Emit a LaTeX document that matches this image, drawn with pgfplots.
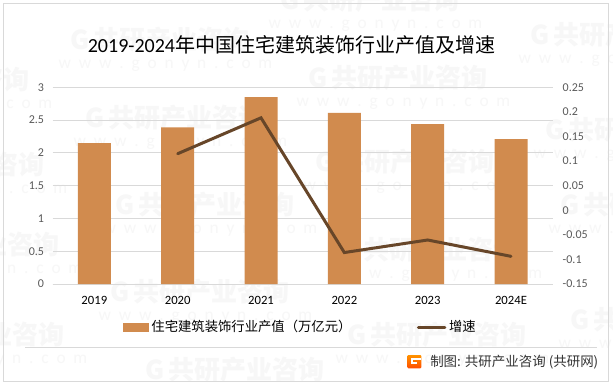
\documentclass[border=0pt]{standalone}
\usepackage{fontspec}
\usepackage{pgfplots}
\pgfplotsset{compat=1.18}
\setmainfont{Carlito}
\newfontfamily\cjk{Noto Sans CJK SC}
\definecolor{bar}{HTML}{D18B4E}
\definecolor{ln}{HTML}{674629}
\definecolor{tk}{HTML}{595959}
\definecolor{gr}{HTML}{D9D9D9}
\definecolor{wm}{HTML}{F7F7F7}
\newcommand{\wmk}[2]{%
  \begin{scope}[shift={(#1*0.75pt,{(387-#2)*0.75pt})},rotate=12]
  \node[inner sep=0pt,text=wm,font=\cjk\bfseries\fontsize{19.5pt}{20pt}\selectfont] at (0pt,0pt) {G\,共研产业咨询};
  \node[inner sep=0pt,text=wm,font=\fontsize{13pt}{14pt}\selectfont] at (0pt,-20pt) {w\ \ w\ \ w\ \ .\ \ g\ \ o\ \ n\ \ y\ \ n\ \ .\ \ c\ \ o\ \ m};
  \end{scope}}
\begin{document}
\begin{tikzpicture}
\useasboundingbox (0pt,0pt) rectangle (459.75pt,290.25pt);
\fill[white] (0pt,0pt) rectangle (459.75pt,290.25pt);
\begin{scope}
\clip (0pt,0pt) rectangle (459.75pt,290.25pt);
\wmk{160}{40}\wmk{370}{0}\wmk{620}{35}
\wmk{-60}{80}\wmk{175}{118}\wmk{398}{78}\wmk{635}{130}
\wmk{-45}{165}\wmk{205}{205}\wmk{405}{162}\wmk{650}{205}
\wmk{-30}{245}\wmk{200}{292}\wmk{430}{250}\wmk{660}{320}
\wmk{-25}{335}\wmk{235}{370}\wmk{437}{335}
\end{scope}
\draw[gr,line width=0.75pt] (2.8pt,4.2pt) rectangle (456pt,287.4pt);
\draw[gr,line width=0.75pt] (18.75pt,29.6pt) -- (447.75pt,29.6pt);
\node[inner sep=0pt,anchor=center,font=\fontsize{15pt}{18pt}\selectfont] at (218.6pt,256.5pt) {2019-2024{\cjk 年中国住宅建筑装饰行业产值及增速}};
\shade[top color=orange!85!yellow,bottom color=orange!60!red,rounded corners=0.8pt] (305.5pt,14pt) rectangle (316pt,24pt);
\fill[white] (308.5pt,17pt) rectangle (312.5pt,18.8pt);
\fill[white] (308.5pt,20.5pt) rectangle (316pt,21.8pt);
\fill[white] (308.5pt,18.8pt) rectangle (309.5pt,20.5pt);
\node[inner sep=0pt,anchor=west,text=black!80,font=\cjk\fontsize{10.1pt}{12pt}\selectfont] at (322.5pt,19pt) {制图: 共研产业咨询 (共研网)};
\begin{axis}[
  at={(39.5pt,77.25pt)},anchor=south west,
  scale only axis,width=375pt,height=147.5pt,
  xmin=-0.5,xmax=5.5,ymin=0,ymax=3,
  axis x line=bottom,axis y line=left,
  x axis line style={draw=gr,line width=0.75pt,-},
  y axis line style={draw=none},
  xtick={0,1,2,3,4,5},
  xticklabels={2019,2020,2021,2022,2023,2024E},
  ytick={0,0.5,1,1.5,2,2.5,3},
  yticklabels={0,0.5,1,1.5,2,2.5,3},
  major tick length=0pt,
  ymajorgrids,grid style={draw=gr,line width=0.75pt},
  xticklabel style={font=\fontsize{9.5pt}{11pt}\selectfont,text=black,yshift=-6pt},
  yticklabel style={font=\fontsize{9pt}{11pt}\selectfont,text=tk,xshift=-3pt},
  clip=false,
]
\addplot[ybar,bar width=24.75pt,fill=bar,draw=none] coordinates {(0,2.15)(1,2.39)(2,2.85)(3,2.61)(4,2.44)(5,2.21)};
\end{axis}
\begin{axis}[
  at={(39.5pt,77.25pt)},anchor=south west,
  scale only axis,width=375pt,height=147.5pt,
  xmin=-0.5,xmax=5.5,ymin=-0.15,ymax=0.25,
  axis x line=none,axis y line=right,
  y axis line style={draw=none},
  ytick={-0.15,-0.1,-0.05,0,0.05,0.1,0.15,0.2,0.25},
  yticklabels={-0.15,-0.1,-0.05,0,0.05,0.1,0.15,0.2,0.25},
  major tick length=0pt,
  yticklabel style={font=\fontsize{9pt}{11pt}\selectfont,text=tk,anchor=west,xshift=4pt},
  legend columns=2,
  legend style={draw=none,fill=none,at={(0.14,-0.22)},anchor=west,inner sep=0pt,
    font=\cjk\fontsize{10pt}{12pt}\selectfont,
    /tikz/every even column/.append style={column sep=47pt},
    /tikz/every odd column/.append style={column sep=0pt}},
  legend cell align=left,
  clip=false,
]
\addlegendimage{legend image code/.code={\fill[bar] (0pt,-3pt) rectangle (19pt,3pt);}}
\addlegendentry{住宅建筑装饰行业产值（万亿元）}
\addplot[ln,line width=2.25pt,line join=miter,line cap=round,legend image code/.code={\draw[ln,line width=2.25pt,line cap=round] (0pt,0pt)--(20pt,0pt);}] coordinates {(1,0.115)(2,0.188)(3,-0.086)(4,-0.0605)(5,-0.0937)};
\addlegendentry{增速}
\end{axis}
\end{tikzpicture}
\end{document}
